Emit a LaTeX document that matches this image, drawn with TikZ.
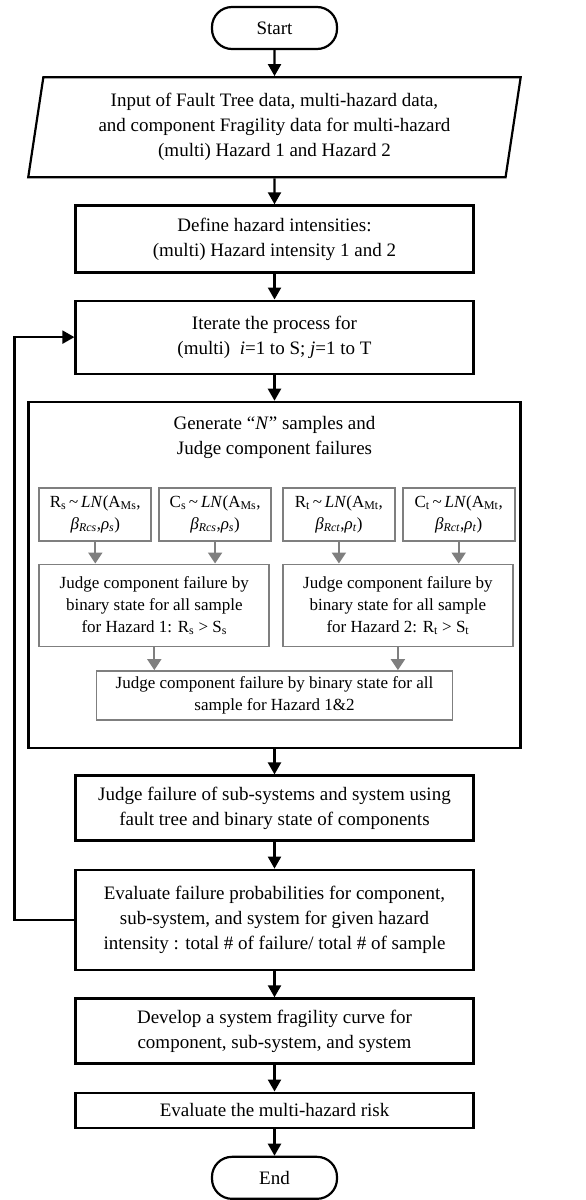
\documentclass[tikz,border=0pt]{standalone}
\usepackage{fontspec}
\setmainfont{Liberation Serif}
\usetikzlibrary{arrows.meta,positioning,shapes.geometric}
\definecolor{boxgray}{RGB}{127,127,127}

\begin{document}
\begin{tikzpicture}[
  x=1pt, y=-1pt,
  node distance=26pt and 6pt,
  every node/.style={font=\fontsize{19}{25}\selectfont},
  terminal/.style={rectangle, draw, line width=2.2pt, rounded corners=20pt,
    minimum width=125pt, minimum height=42pt},
  io/.style={trapezium, trapezium left angle=81, trapezium right angle=99,
    trapezium stretches=true, draw, line width=2.2pt, minimum width=494pt,
    minimum height=100pt, align=center},
  block/.style={rectangle, draw, line width=2.2pt, minimum width=398pt, align=center},
  gbox/.style={rectangle, draw=boxgray, line width=1.8pt, align=center,
    font=\fontsize{17}{22}\selectfont},
  arrow/.style={-{Triangle[width=13pt,length=12pt]}, line width=2.2pt},
  garrow/.style={-{Triangle[width=14pt,length=11pt]}, line width=2pt, boxgray}
]
  \useasboundingbox (0,0) rectangle (586,1200);

  \node[terminal] (start) at (274.5,28) {Start};
  \node[io, below=of start] (input) {Input of Fault Tree data, multi-hazard data,\\and component Fragility data for multi-hazard\\(multi) Hazard 1 and Hazard 2};
  \node[block, minimum height=67pt, below=of input] (define) {Define hazard intensities:\\(multi) Hazard intensity 1 and 2};
  \node[block, minimum height=73pt, below=of define] (iterate) {Iterate the process for\\(multi)\ \ \textit{i}=1 to S;\ \textit{j}=1 to T};
  \node[block, minimum width=492pt, minimum height=346pt, below=of iterate] (sampling) {};
  \node[below=12pt of sampling.north, align=center] (gentitle) {Generate “\textit{N}” samples and\\Judge component failures};

  % sampled capacities and demands
  \node[gbox, minimum width=112pt, minimum height=53pt, below right=86pt and 11pt of sampling.north west] (rs)
    {R\textsubscript{s}\,\textasciitilde\,\textit{LN}(A\textsubscript{Ms},\\\textit{β}\textsubscript{\textit{Rcs}},\textit{ρ}\textsubscript{\textit{s}})};
  \node[gbox, minimum width=112pt, minimum height=53pt, right=of rs] (cs)
    {C\textsubscript{s}\,\textasciitilde\,\textit{LN}(A\textsubscript{Ms},\\\textit{β}\textsubscript{\textit{Rcs}},\textit{ρ}\textsubscript{\textit{s}})};
  \node[gbox, minimum width=112pt, minimum height=53pt, right=10pt of cs] (rt)
    {R\textsubscript{t}\,\textasciitilde\,\textit{LN}(A\textsubscript{Mt},\\\textit{β}\textsubscript{\textit{Rct}},\textit{ρ}\textsubscript{\textit{t}})};
  \node[gbox, minimum width=112pt, minimum height=53pt, right=of rt] (ct)
    {C\textsubscript{t}\,\textasciitilde\,\textit{LN}(A\textsubscript{Mt},\\\textit{β}\textsubscript{\textit{Rct}},\textit{ρ}\textsubscript{\textit{t}})};

  \node[gbox, minimum width=230pt, minimum height=82pt, below right=22pt and 0pt of rs.south west] (judge1)
    {Judge component failure by\\binary state for all sample\\for Hazard 1: R\textsubscript{s} > S\textsubscript{s}};
  \node[gbox, minimum width=230pt, minimum height=82pt, below right=22pt and 0pt of rt.south west] (judge2)
    {Judge component failure by\\binary state for all sample\\for Hazard 2: R\textsubscript{t} > S\textsubscript{t}};
  \node[gbox, minimum width=356pt, minimum height=49pt, above=28pt of sampling.south] (both)
    {Judge component failure by binary state for all\\sample for Hazard 1\&2};

  \node[block, minimum height=65pt, below=25.5pt of sampling] (subsys) {Judge failure of sub-systems and system using\\fault tree and binary state of components};
  \node[block, minimum height=100pt, below=27pt of subsys] (evaluate) {Evaluate failure probabilities for component,\\sub-system, and system for given hazard\\intensity : total \# of failure/ total \# of sample};
  \node[block, minimum height=65pt, below=26.5pt of evaluate] (develop) {Develop a system fragility curve for\\component, sub-system, and system};
  \node[block, minimum height=35pt, below=27pt of develop] (risk) {Evaluate the multi-hazard risk};
  \node[terminal, below=27pt of risk] (stop) {End};

  \foreach \a/\b in {start/input, input/define, define/iterate, iterate/sampling,
    sampling/subsys, subsys/evaluate, evaluate/develop, develop/risk, risk/stop}
    \draw[arrow] (\a) -- (\b);

  \foreach \n/\m in {rs/judge1, cs/judge1, rt/judge2, ct/judge2}
    \draw[garrow] (\n) -- (\n |- \m.north);
  \draw[garrow] (judge1) -- (judge1 |- both.north);
  \draw[garrow] (judge2) -- (judge2 |- both.north);

  % loop back over intensities
  \draw[arrow] (evaluate.west) -- ++(-60,0) |- (iterate.west);
\end{tikzpicture}
\end{document}
